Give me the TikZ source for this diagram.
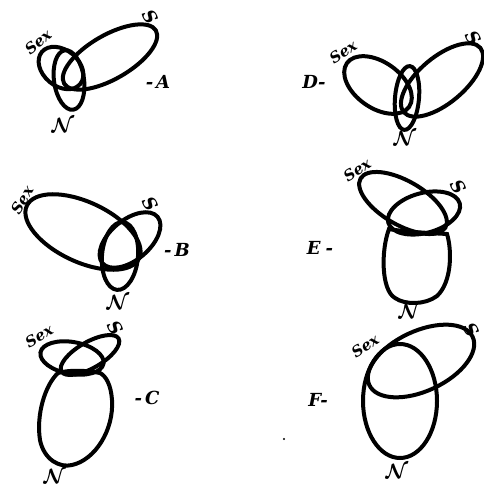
\documentclass[tikz,border=0pt]{standalone}
\usepackage{fontspec}
\newfontfamily\handfont{DejaVu Serif}
\begin{document}
\begin{tikzpicture}[x=1pt,y=-1pt,
  loop/.style={line width=4pt},
  lab/.style={font=\handfont\bfseries\itshape\fontsize{15}{15}\selectfont, inner sep=0pt},
  big/.style={font=\handfont\bfseries\itshape\fontsize{18}{18}\selectfont, inner sep=0pt},
  snode/.style={font=\handfont\bfseries\itshape\fontsize{18}{18}\selectfont, inner sep=0pt, rotate=-60},
  nnode/.style={font=\boldmath\fontsize{22}{22}\selectfont, inner sep=0pt}]
\useasboundingbox (0,0) rectangle (483,486);
% ---------- A
\draw[loop, rotate around={30:(110,57)}] (110,57) ellipse [x radius=53, y radius=22];
\draw[loop, rotate around={-40:(61,68)}] (61,68) ellipse [x radius=25, y radius=18];
\draw[loop, rotate around={8:(69,80)}] (69,80) ellipse [x radius=15, y radius=30];
\node[lab, rotate=40] (sexA) at (38,42) {Sex};
\node[snode] (sA) at (150,17) {S};
\node[big] (labA) at (158,82) {-\,A};
\node[nnode] (nA) at (63,125) {$\mathcal{N}$};
% ---------- B
\draw[loop, rotate around={-25:(83,232)}] (83,232) ellipse [x radius=62, y radius=30];
\draw[loop, rotate around={40:(130,240)}] (130,240) ellipse [x radius=36, y radius=20];
\draw[loop, rotate around={-5:(120,256)}] (120,256) ellipse [x radius=18, y radius=34];
\node[lab, rotate=60] (sexB) at (22,200) {Sex};
\node[snode] (sB) at (150,204) {S};
\node[big] (labB) at (177,250) {-\,B};
\node[nnode] (nB) at (118,302) {$\mathcal{N}$};
% ---------- C
\draw[loop, rotate around={-10:(72,358)}] (72,358) ellipse [x radius=32, y radius=16];
\draw[loop, rotate around={30:(90,355)}] (90,355) ellipse [x radius=33, y radius=13];
\draw[loop] (58,373) .. controls (45,385) and (36,415) .. (40,440)
  .. controls (44,460) and (60,468) .. (72,465)
  .. controls (95,460) and (114,430) .. (112,400)
  .. controls (111,385) and (106,376) .. (100,373)
  .. controls (85,370) and (68,370) .. cycle;
\node[lab, rotate=30] (sexC) at (39,336) {Sex};
\node[snode] (sC) at (115,328) {S};
\node[big] (labC) at (147,398) {-\,C};
\node[nnode] (nC) at (55,476) {$\mathcal{N}$};
% ---------- D
\draw[loop, rotate around={-35:(378,85)}] (378,85) ellipse [x radius=38, y radius=23];
\draw[loop, rotate around={40:(442,80)}] (442,80) ellipse [x radius=50, y radius=23];
\draw[loop, rotate around={-5:(407,98)}] (407,98) ellipse [x radius=12, y radius=32];
\node[big] (labD) at (314,82) {D-};
\node[lab, rotate=35] (sexD) at (343,52) {Sex};
\node[snode] (sD) at (473,38) {S};
\node[nnode] (nD) at (405,138) {$\mathcal{N}$};
% ---------- E
\draw[loop, rotate around={-30:(403,203)}] (403,203) ellipse [x radius=49, y radius=22];
\draw[loop, rotate around={15:(424,213)}] (424,213) ellipse [x radius=37, y radius=20];
\draw[loop] (389,229) .. controls (381,250) and (381,290) .. (395,298)
  .. controls (405,305) and (425,305) .. (437,296)
  .. controls (452,282) and (452,250) .. (447,234)
  .. controls (430,233) and (405,232) .. cycle;
\node[big] (labE) at (320,248) {E\;-};
\node[lab, rotate=35] (sexE) at (357,170) {Sex};
\node[snode] (sE) at (458,187) {S};
\node[nnode] (nE) at (410,311) {$\mathcal{N}$};
% ---------- F
\draw[loop, rotate around={25:(421,361)}] (421,361) ellipse [x radius=57, y radius=30];
\draw[loop] (400,401) ellipse [x radius=37, y radius=57];
\node[big] (labF) at (318,400) {F-};
\node[lab, rotate=35] (sexF) at (365,346) {Sex};
\node[snode] (sF) at (471,330) {S};
\node[nnode] (nF) at (397,471) {$\mathcal{N}$};
\fill (284,439) circle [radius=1.2];
\end{tikzpicture}
\end{document}
